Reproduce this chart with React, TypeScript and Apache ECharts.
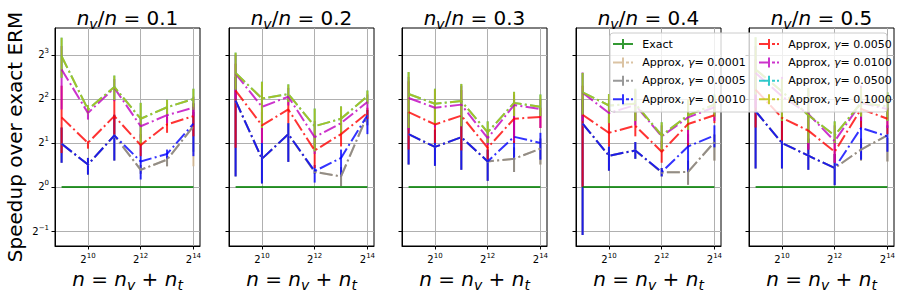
import React, { useEffect, useRef } from "react";
import * as echarts from "echarts";

const FONT = "'DejaVu Sans', 'Liberation Sans', sans-serif";

// ---------------- data (log2 of speedup over exact ERM) ----------------
const xExponents = [9, 10, 11, 12, 13, 14]; // n = 2^x
const ratioLabels = ["0.1", "0.2", "0.3", "0.4", "0.5"]; // n_v / n per panel
const seriesNames = [
  "Exact",
  "Approx, γ= 0.0001",
  "Approx, γ= 0.0005",
  "Approx, γ= 0.0010",
  "Approx, γ= 0.0050",
  "Approx, γ= 0.0100",
  "Approx, γ= 0.0500",
  "Approx, γ= 0.1000",
];
const xTickExponents = [10, 12, 14];
const yTickExponents = [-1, 0, 1, 2, 3];

const exactLog2 = [0, 0, 0, 0, 0, 0];

// rows: panels n_v/n = 0.1 .. 0.5 ; columns: n = 2^9 .. 2^14
const g0001Mean = [
  [0.98, 0.51, 1.17, 0.39, 0.62, 1.38],
  [1.96, 0.64, 1.2, 0.34, 0.24, 1.63],
  [1.2, 0.91, 1.13, 0.58, 0.64, 0.87],
  [1.44, 0.71, 0.83, 0.33, 0.34, 1.02],
  [1.72, 1.0, 0.71, 0.43, 0.85, 1.17],
];
const g0001Lo = [
  [0.55, 0.28, 0.6, 0.3, 0.47, 0.47],
  [0.24, 0.08, 0.57, 0.3, 0.02, 1.4],
  [0.51, 0.48, 0.39, 0.14, 0.34, 0.51],
  [-1.09, 0.37, 0.64, 0.24, 0.05, 0.6],
  [0.42, 0.42, 0.39, 0.04, 0.6, 0.58],
];
const g0001Hi = [
  [1.35, 0.66, 1.64, 0.5, 0.7, 1.7],
  [2.5, 1.0, 1.45, 0.4, 0.45, 1.75],
  [1.7, 1.3, 1.6, 0.85, 0.9, 1.1],
  [2.0, 0.92, 1.02, 0.43, 0.6, 1.19],
  [2.5, 1.6, 1.1, 0.75, 1.1, 1.11],
];

const g0005Mean = [
  [0.98, 0.51, 1.17, 0.39, 0.62, 1.38],
  [1.96, 0.64, 1.2, 0.34, 0.24, 1.63],
  [1.2, 0.91, 1.13, 0.58, 0.64, 0.87],
  [1.44, 0.71, 0.83, 0.33, 0.34, 1.02],
  [1.72, 1.0, 0.71, 0.43, 0.85, 1.17],
];
const g0005Lo = [
  [0.55, 0.28, 0.6, 0.3, 0.47, 0.8],
  [0.24, 0.08, 0.57, 0.3, 0.02, 1.4],
  [0.51, 0.48, 0.39, 0.14, 0.34, 0.51],
  [-1.09, 0.37, 0.64, 0.24, 0.05, 0.6],
  [0.42, 0.42, 0.39, 0.04, 0.6, 0.58],
];
const g0005Hi = [
  [1.35, 0.66, 1.64, 0.5, 0.7, 1.7],
  [2.5, 1.0, 1.45, 0.4, 0.45, 1.75],
  [1.7, 1.3, 1.6, 0.85, 0.9, 1.1],
  [2.0, 0.92, 1.02, 0.43, 0.6, 1.19],
  [2.5, 1.6, 1.1, 0.75, 1.1, 1.11],
];

const g0010Mean = [
  [0.98, 0.51, 1.17, 0.58, 0.75, 1.44],
  [1.96, 0.64, 1.2, 0.36, 0.66, 1.63],
  [1.2, 0.91, 1.13, 0.58, 1.14, 1.0],
  [1.44, 0.71, 0.83, 0.34, 0.92, 1.17],
  [1.72, 1.0, 0.71, 0.43, 1.34, 1.15],
];
const g0010Lo = [
  [0.55, 0.28, 0.6, 0.17, 0.65, 0.7],
  [0.24, 0.08, 0.57, 0.1, 0.24, 1.2],
  [0.51, 0.48, 0.39, 0.14, 0.62, 0.62],
  [-1.09, 0.37, 0.64, 0.24, 0.35, 0.9],
  [0.42, 0.42, 0.39, 0.04, 0.62, 0.8],
];
const g0010Hi = [
  [1.35, 0.66, 1.64, 0.95, 0.85, 1.9],
  [2.5, 1.0, 1.45, 0.5, 0.85, 1.75],
  [1.7, 1.3, 1.6, 0.85, 1.6, 1.23],
  [2.0, 0.92, 1.02, 0.43, 1.2, 1.4],
  [2.5, 1.6, 1.1, 0.75, 1.7, 1.4],
];

const g0050Mean = [
  [1.58, 1.0, 1.61, 0.95, 1.42, 1.61],
  [2.19, 1.4, 1.76, 0.83, 1.2, 1.68],
  [1.7, 1.42, 1.62, 0.89, 1.55, 1.59],
  [1.64, 1.23, 1.39, 0.8, 1.43, 1.63],
  [2.21, 1.57, 1.28, 0.8, 1.77, 1.55],
];
const g0050Lo = [
  [0.77, 0.87, 1.19, 0.7, 1.23, 1.15],
  [0.89, 1.0, 1.45, 0.43, 0.92, 1.55],
  [0.85, 1.0, 0.83, 0.62, 1.0, 1.34],
  [0.0, 0.92, 1.15, 0.55, 0.9, 1.45],
  [1.35, 1.05, 0.85, 0.55, 1.34, 1.2],
];
const g0050Hi = [
  [2.3, 1.04, 2.0, 1.2, 1.6, 1.9],
  [2.8, 1.7, 2.0, 1.2, 1.45, 1.8],
  [2.4, 1.8, 2.2, 1.1, 2.0, 1.8],
  [2.3, 1.6, 1.7, 1.05, 1.9, 1.85],
  [2.9, 2.0, 1.7, 1.05, 2.1, 1.8],
];

const g0100Mean = [
  [2.67, 1.68, 2.25, 1.38, 1.63, 1.8],
  [2.57, 1.82, 2.05, 1.13, 1.45, 1.93],
  [2.02, 1.8, 1.87, 1.11, 1.86, 1.77],
  [2.14, 1.68, 1.86, 1.15, 1.58, 1.81],
  [2.59, 2.06, 1.66, 1.04, 1.91, 1.77],
];
const g0100Lo = [
  [1.76, 1.53, 1.95, 1.1, 1.45, 1.6],
  [2.0, 1.0, 1.85, 0.75, 1.25, 1.75],
  [1.3, 1.35, 1.4, 0.95, 1.05, 1.34],
  [1.5, 1.45, 1.4, 0.9, 1.0, 1.5],
  [1.8, 1.5, 0.85, 0.55, 1.5, 1.34],
];
const g0100Hi = [
  [3.2, 1.8, 2.45, 1.6, 1.8, 2.05],
  [3.0, 2.2, 2.25, 1.5, 1.65, 2.1],
  [2.5, 2.2, 2.3, 1.3, 2.1, 2.0],
  [2.6, 1.9, 2.2, 1.4, 1.9, 2.0],
  [3.2, 2.5, 2.2, 1.4, 2.3, 2.0],
];

const g0500Mean = [
  [2.97, 1.76, 2.27, 1.55, 1.81, 2.0],
  [2.59, 2.01, 2.11, 1.38, 1.55, 2.06],
  [2.11, 1.89, 1.95, 1.24, 1.91, 1.82],
  [2.15, 1.85, 1.89, 1.17, 1.63, 1.87],
  [2.67, 2.17, 1.63, 1.17, 1.91, 1.83],
];
const g0500Lo = [
  [2.48, 1.66, 1.98, 0.96, 1.63, 1.76],
  [2.21, 1.34, 1.93, 0.81, 1.2, 1.89],
  [1.34, 1.42, 1.38, 1.0, 1.61, 1.61],
  [1.64, 1.45, 1.5, 0.81, 1.3, 1.6],
  [2.1, 1.5, 1.0, 1.0, 1.6, 1.5],
];
const g0500Hi = [
  [3.39, 1.86, 2.53, 1.91, 1.98, 2.23],
  [3.05, 2.39, 2.33, 1.78, 1.83, 2.19],
  [2.61, 2.23, 2.34, 1.49, 2.16, 2.1],
  [2.59, 2.11, 2.23, 1.47, 1.98, 2.1],
  [3.4, 2.45, 2.25, 1.49, 2.25, 2.15],
];

const g1000Mean = [
  [2.97, 1.76, 2.27, 1.55, 1.81, 2.0],
  [2.59, 2.01, 2.11, 1.38, 1.55, 2.06],
  [2.11, 1.89, 1.95, 1.24, 1.91, 1.82],
  [2.15, 1.85, 1.89, 1.17, 1.63, 1.87],
  [2.67, 2.17, 1.63, 1.17, 1.91, 1.83],
];
const g1000Lo = [
  [2.48, 1.66, 1.98, 0.96, 1.63, 1.76],
  [2.21, 1.34, 1.93, 0.81, 1.2, 1.89],
  [1.34, 1.42, 1.38, 1.0, 1.61, 1.61],
  [1.64, 1.45, 1.5, 0.81, 1.3, 1.6],
  [2.1, 1.5, 1.0, 1.0, 1.6, 1.5],
];
const g1000Hi = [
  [3.39, 1.86, 2.53, 1.91, 1.98, 2.23],
  [3.05, 2.39, 2.33, 1.78, 1.83, 2.19],
  [2.61, 2.23, 2.34, 1.49, 2.16, 2.1],
  [2.59, 2.11, 2.23, 1.47, 1.98, 2.1],
  [3.4, 2.45, 2.25, 1.49, 2.25, 2.15],
];

// ---------------- layout & style ----------------
const PANEL_LEFTS = [55, 229, 402, 576, 749];
const PANEL_W = 145;
const PANEL_TOP = 28;
const PANEL_H = 218;
const X_MIN = 8.75;
const X_MAX = 14.25;
const Y_MIN = -1.34;
const Y_MAX = 3.61;

const EXACT_COLOR = "#008000";
const DASHDOT = [13, 3.3, 2, 3.3];

const approxSeries = [
  { name: seriesNames[1], color: "#d2b48c", mean: g0001Mean, lo: g0001Lo, hi: g0001Hi },
  { name: seriesNames[2], color: "#808080", mean: g0005Mean, lo: g0005Lo, hi: g0005Hi },
  { name: seriesNames[3], color: "#0000ff", mean: g0010Mean, lo: g0010Lo, hi: g0010Hi },
  { name: seriesNames[4], color: "#ff0000", mean: g0050Mean, lo: g0050Lo, hi: g0050Hi },
  { name: seriesNames[5], color: "#bf00bf", mean: g0100Mean, lo: g0100Lo, hi: g0100Hi },
  { name: seriesNames[6], color: "#00bfbf", mean: g0500Mean, lo: g0500Lo, hi: g0500Hi },
  { name: seriesNames[7], color: "#bfbf00", mean: g1000Mean, lo: g1000Lo, hi: g1000Hi },
];

const ICON_SOLID = "path://M9 0H11V10H9Z M0 4H20V6H0Z";
const ICON_DASHDOT = "path://M9 0H11V10H9Z M0 4H9V6H0Z M13 4H16V6H13Z M18 4H20V6H18Z";

const powLabel = (v: number) => `{b|2}{s|${String(v).replace("-", "\u2212")}}`;
const powRich = {
  b: { fontFamily: FONT, fontSize: 10, lineHeight: 14, color: "#000" },
  s: { fontFamily: FONT, fontSize: 7, lineHeight: 8, verticalAlign: "top", color: "#000" },
};

const mathRich = {
  i: { fontFamily: FONT, fontSize: 20, fontStyle: "italic", lineHeight: 26, color: "#000" },
  s: { fontFamily: FONT, fontSize: 14, fontStyle: "italic", lineHeight: 14, verticalAlign: "bottom", color: "#000" },
  r: { fontFamily: FONT, fontSize: 20, lineHeight: 26, color: "#000" },
};

function buildOption() {
  const grid = PANEL_LEFTS.map((left) => ({
    left,
    top: PANEL_TOP,
    width: PANEL_W,
    height: PANEL_H,
    show: true,
    borderColor: "#000",
    borderWidth: 1,
    backgroundColor: "transparent",
  }));

  const xAxis = PANEL_LEFTS.map((_, i) => ({
    type: "value",
    gridIndex: i,
    min: X_MIN,
    max: X_MAX,
    axisLine: { show: true, onZero: false, lineStyle: { color: "#000", width: 1 } },
    axisTick: { show: true, length: 3.5, customValues: xTickExponents, lineStyle: { color: "#000", width: 1 } },
    axisLabel: { show: true, customValues: xTickExponents, formatter: powLabel, rich: powRich, margin: 6 },
    splitLine: { show: true, lineStyle: { color: "#b0b0b0", width: 1 } },
    name: "{i|n}{r| = }{i|n}{s|v}{r| + }{i|n}{s|t}",
    nameLocation: "middle",
    nameGap: 19,
    nameTextStyle: { rich: mathRich, fontFamily: FONT, fontSize: 20 },
  }));

  const yAxis = PANEL_LEFTS.map((_, i) => ({
    type: "value",
    gridIndex: i,
    min: Y_MIN,
    max: Y_MAX,
    axisLine: { show: true, onZero: false, lineStyle: { color: "#000", width: 1 } },
    axisTick: { show: true, length: 3.5, customValues: yTickExponents, lineStyle: { color: "#000", width: 1 } },
    axisLabel: { show: i === 0, customValues: yTickExponents, formatter: powLabel, rich: powRich, margin: 6 },
    splitLine: { show: true, lineStyle: { color: "#b0b0b0", width: 1 } },
    name: i === 0 ? "Speedup over exact ERM" : "",
    nameLocation: "middle",
    nameGap: 30,
    nameRotate: 90,
    nameTextStyle: { fontFamily: FONT, fontSize: 20, color: "#000" },
  }));

  const series: any[] = [];
  PANEL_LEFTS.forEach((_, p) => {
    // error bars (drawn below all lines)
    approxSeries.forEach((s) => {
      series.push({
        type: "custom",
        xAxisIndex: p,
        yAxisIndex: p,
        z: 1,
        silent: true,
        itemStyle: { color: s.color },
        data: xExponents.map((x, j) => [x, s.lo[p][j], s.hi[p][j]]),
        renderItem: (_params: any, api: any) => {
          const a = api.coord([api.value(0), api.value(1)]);
          const b = api.coord([api.value(0), api.value(2)]);
          return {
            type: "line",
            shape: { x1: a[0], y1: a[1], x2: b[0], y2: b[1] },
            style: { stroke: s.color, lineWidth: 2, opacity: 0.8 },
          };
        },
      });
    });
    series.push({
      type: "line",
      name: seriesNames[0],
      xAxisIndex: p,
      yAxisIndex: p,
      z: 2,
      silent: true,
      symbol: "none",
      showSymbol: false,
      itemStyle: { color: EXACT_COLOR },
      lineStyle: { color: EXACT_COLOR, width: 2, opacity: 0.8 },
      data: xExponents.map((x, j) => [x, exactLog2[j]]),
    });
    approxSeries.forEach((s) => {
      series.push({
        type: "line",
        name: s.name,
        xAxisIndex: p,
        yAxisIndex: p,
        z: 2,
        silent: true,
        symbol: "none",
        showSymbol: false,
        itemStyle: { color: s.color },
        lineStyle: { color: s.color, width: 2, type: DASHDOT, opacity: 0.8 },
        data: xExponents.map((x, j) => [x, s.mean[p][j]]),
      });
    });
  });

  const legendCol = (names: string[], left: number, firstSolid: boolean) => ({
    orient: "vertical",
    left,
    top: 37.5,
    padding: 0,
    itemWidth: 20,
    itemHeight: 10,
    itemGap: 5.4,
    z: 6,
    selectedMode: false,
    itemStyle: { opacity: 0.8, borderWidth: 0 },
    data: names.map((n, i) => ({ name: n, icon: firstSolid && i === 0 ? ICON_SOLID : ICON_DASHDOT })),
    formatter: (n: string) => n.replace("γ", "{g|γ}"),
    textStyle: {
      fontFamily: FONT,
      fontSize: 11,
      lineHeight: 13,
      color: "#000",
      padding: [0, 0, 0, 4.3],
      rich: { g: { fontFamily: FONT, fontSize: 11, lineHeight: 13, fontStyle: "italic", color: "#000" } },
    },
  });

  const graphic: any[] = [
    {
      type: "rect",
      z: 5,
      shape: { x: 610, y: 33, width: 277, height: 79, r: 3 },
      style: { fill: "rgba(255,255,255,0.8)", stroke: "#cccccc", lineWidth: 1 },
    },
    ...ratioLabels.map((r, i) => ({
      type: "text",
      z: 10,
      x: PANEL_LEFTS[i] + PANEL_W / 2,
      y: 18,
      style: {
        text: `{i|n}{s|v}{r|/}{i|n}{r| = ${r}}`,
        rich: mathRich,
        align: "center",
        verticalAlign: "middle",
        fontFamily: FONT,
        fontSize: 20,
      },
    })),
  ];

  return {
    animation: false,
    backgroundColor: "#fff",
    textStyle: { fontFamily: FONT },
    grid,
    xAxis,
    yAxis,
    series,
    legend: [legendCol(seriesNames.slice(0, 4), 613, true), legendCol(seriesNames.slice(4, 8), 759, false)],
    graphic,
  };
}

export default function App() {
  const ref = useRef<HTMLDivElement>(null);
  useEffect(() => {
    document.body.style.margin = "0";
    const chart = echarts.init(ref.current as HTMLDivElement, null, { renderer: "svg" });
    chart.setOption(buildOption() as any);
    return () => chart.dispose();
  }, []);
  return (
    <div
      ref={ref}
      style={{ position: "fixed", left: 0, top: 0, width: 901, height: 297, background: "#fff" }}
    />
  );
}
